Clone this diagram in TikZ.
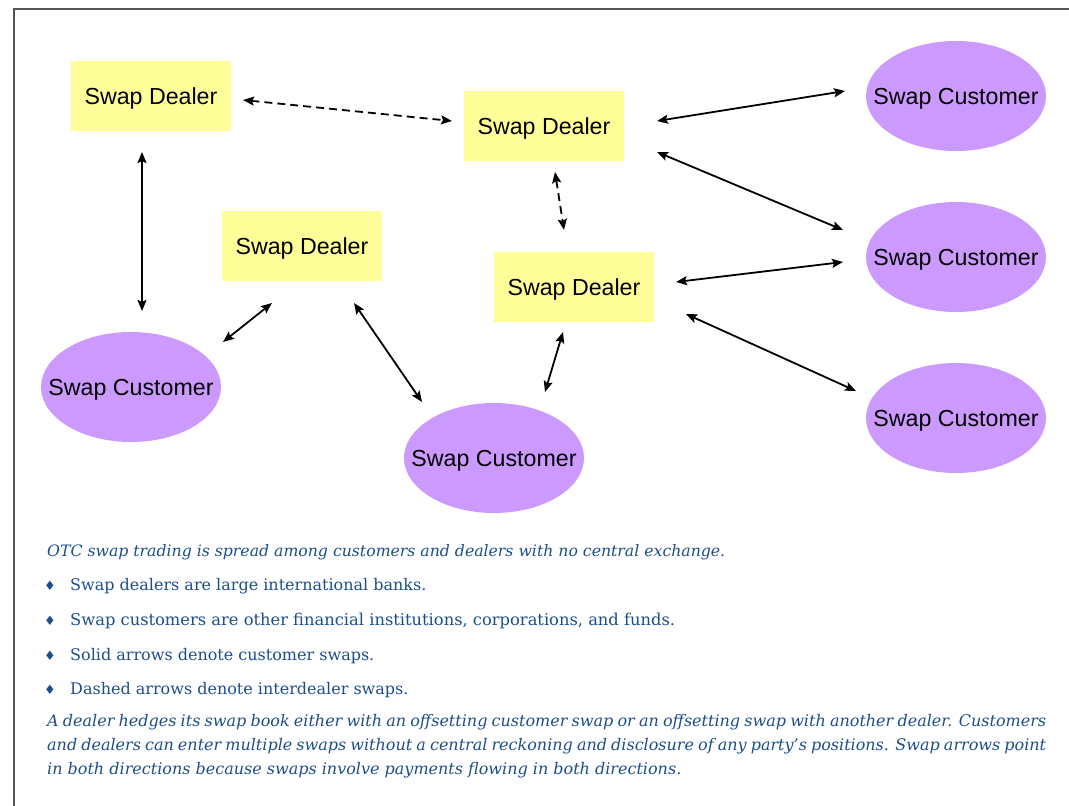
\documentclass[tikz,border=0pt]{standalone}
\usepackage{fontspec}
\setmainfont{Liberation Sans}
\newfontfamily\capfont{DejaVu Serif}
\newfontfamily\bulfont{DejaVu Sans}
\usetikzlibrary{shapes.geometric,arrows.meta,calc}
\definecolor{dealerfill}{RGB}{255,255,153}
\definecolor{custfill}{RGB}{204,153,255}
\definecolor{captext}{RGB}{28,78,138}
\definecolor{framegray}{RGB}{85,85,85}
\newcommand{\zw}[1]{\makebox[0pt]{#1}}
\begin{document}
\begin{tikzpicture}[x=1pt,y=-1pt,
  dealer/.style={rectangle, fill=dealerfill, minimum width=160pt, minimum height=70pt, inner sep=0pt, text depth=0pt, font=\fontsize{23.2}{27}\selectfont},
  cust/.style={ellipse, fill=custfill, minimum width=180pt, minimum height=110pt, inner sep=0pt, text depth=0pt, font=\fontsize{23.2}{27}\selectfont},
  swaparrow/.style={line width=1.8pt, {Stealth[length=11pt,width=9pt,inset=2pt]}-{Stealth[length=11pt,width=9pt,inset=2pt]}},
  interdealer/.style={swaparrow, dash pattern=on 8pt off 5pt},
  captxt/.style={anchor=base west, inner sep=0pt, text=captext, font=\capfont\fontsize{16}{19}\selectfont},
  bullet/.style={anchor=base, inner sep=0pt, text=captext, font=\bulfont\fontsize{13}{15}\selectfont}]
\useasboundingbox (0,0) rectangle (1069,806);
\draw[framegray, line width=1.5pt] (14,806) -- (14,9) -- (1069,9);

\node[dealer] (D1) at (151,96) {Swap Dealer};
\node[dealer] (D2) at (544,126) {Swap Dealer};
\node[dealer] (D3) at (302,246) {Swap Dealer};
\node[dealer] (D4) at (574,287) {Swap Dealer};
\node[cust] (C1) at (956,96) {\zw{Swap Customer}};
\node[cust] (C2) at (956,257) {\zw{Swap Customer}};
\node[cust] (C3) at (956,418) {\zw{Swap Customer}};
\node[cust] (C4) at (131,387) {\zw{Swap Customer}};
\node[cust] (C5) at (494,458) {\zw{Swap Customer}};

\draw[interdealer] ($(D1)+(92,4)$) -- ($(D2)+(-92,-5)$);
\draw[swaparrow] ($(D2)+(113,-5)$) -- ($(C1)+(-111,-5)$);
\draw[swaparrow] ($(D2)+(113,26)$) -- ($(C2)+(-113,-27)$);
\draw[interdealer] ($(D2)+(11,46)$) -- ($(D4)+(-10,-57)$);
\draw[swaparrow] ($(D4)+(102,-5)$) -- ($(C2)+(-113,5)$);
\draw[swaparrow] ($(D4)+(112,27)$) -- ($(C3)+(-100,-27)$);
\draw[swaparrow] ($(D1)+(-9,56)$) -- ($(C4)+(11,-76)$);
\draw[swaparrow] ($(D3)+(-30,57)$) -- ($(C4)+(92,-45)$);
\draw[swaparrow] ($(D3)+(52,57)$) -- ($(C5)+(-72,-56)$);
\draw[swaparrow] ($(D4)+(-11,45)$) -- ($(C5)+(51,-66)$);

\node[captxt, font=\capfont\fontsize{15.7}{19}\selectfont] (L0) at (47,556) {\itshape OTC swap trading is spread among customers and dealers with no central exchange.};
\node[bullet] (B1) at (50,590) {♦};
\node[captxt] (L1) at (70,590) {Swap dealers are large international banks.};
\node[bullet] (B2) at (50,625) {♦};
\node[captxt, font=\capfont\fontsize{16.3}{19}\selectfont] (L2) at (70,625) {Swap customers are other financial institutions, corporations, and funds.};
\node[bullet] (B3) at (50,660) {♦};
\node[captxt] (L3) at (70,660) {Solid arrows denote customer swaps.};
\node[bullet] (B4) at (50,694) {♦};
\node[captxt] (L4) at (70,694) {Dashed arrows denote interdealer swaps.};
\node[captxt] (P1) at (47,726) {\itshape\makebox[999pt][s]{A dealer hedges its swap book either with an offsetting customer swap or an offsetting swap with another dealer. Customers}};
\node[captxt] (P2) at (47,750) {\itshape\makebox[999pt][s]{and dealers can enter multiple swaps without a central reckoning and disclosure of any party’s positions. Swap arrows point}};
\node[captxt] (P3) at (47,774) {\itshape in both directions because swaps involve payments flowing in both directions.};
\end{tikzpicture}
\end{document}
